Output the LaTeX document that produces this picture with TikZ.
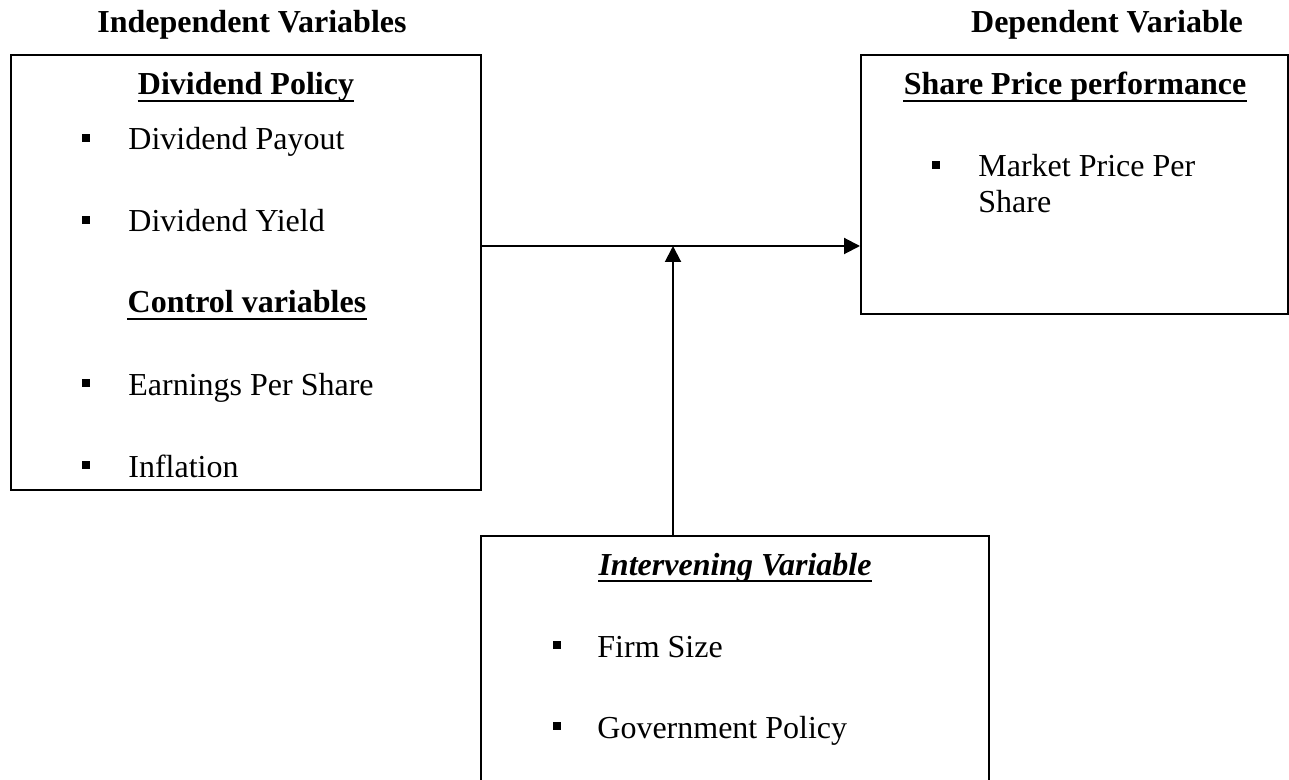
\documentclass[tikz,border=0pt]{standalone}
\usepackage{fontspec}
\setmainfont{Liberation Serif}
\usetikzlibrary{arrows.meta}

\tikzset{
    box/.style={draw, line width=1pt, rectangle, inner sep=0pt},
    head/.style={font=\fontsize{16}{19}\selectfont\bfseries, inner sep=0pt, anchor=base},
    item/.style={font=\fontsize{16}{19}\selectfont, inner sep=0pt, anchor=base west},
    dot/.style={fill, rectangle, inner sep=0pt, minimum size=4.2pt},
    uline/.style={line width=1.2pt},
    arr/.style={line width=1pt, -{Triangle[length=8pt,width=8pt]}}
}

\begin{document}
\begin{tikzpicture}[x=0.5pt, y=-0.5pt]
                \useasboundingbox (0,0) rectangle (1289,780);

                % titles
                \node[head] (indep) at (252,33) {Independent Variables};
                \node[head] (dep) at (1107,33) {Dependent Variable};

                % boxes
                \node[box, minimum width=235pt, minimum height=217.5pt] (leftbox) at (246,272.5) {};
                \node[box, minimum width=213.5pt, minimum height=129.5pt] (rightbox) at (1074.5,184.5) {};
                \node[box, minimum width=254pt, minimum height=132pt] (botbox) at (735,668) {};

                % headings
                \node[head] (divpol) at (246,95) {Dividend Policy};
                \node[head] (ctrl) at (247,313) {Control variables};
                \node[head] (share) at (1075,95) {Share Price performance};
                \node[head, font=\fontsize{16}{19}\selectfont\bfseries\itshape] (interv) at (735,575) {Intervening Variable};
                \foreach \n in {divpol, ctrl, share, interv}
                    \draw[uline] ([yshift=-3pt]\n.base west) -- ([yshift=-3pt]\n.base east);

                % items
                \node[item] (payout) at (128,150) {Dividend Payout};
                \node[item] (yield) at (128,232) {Dividend Yield};
                \node[item] (eps) at (128,395) {Earnings Per Share};
                \node[item] (infl) at (128,477) {Inflation};
                \node[item] (mpps) at (978,177) {Market Price Per};
                \node[item] (mpps2) at (978,213) {Share};
                \node[item] (size) at (597,657) {Firm Size};
                \node[item] (gov) at (597,738) {Government Policy};

                % bullets
                \foreach \x/\y [count=\i] in {86/138, 86/220, 86/383, 86/465, 936/165, 557/645, 557/726}
                    \node[dot] (b\i) at (\x,\y) {};

                % arrows
                \coordinate (junc) at (673,246);
                \draw[arr] (leftbox.east |- junc) -- (rightbox.west |- junc);
                \draw[arr] (botbox.north -| junc) -- (junc);
            \end{tikzpicture}
\end{document}
